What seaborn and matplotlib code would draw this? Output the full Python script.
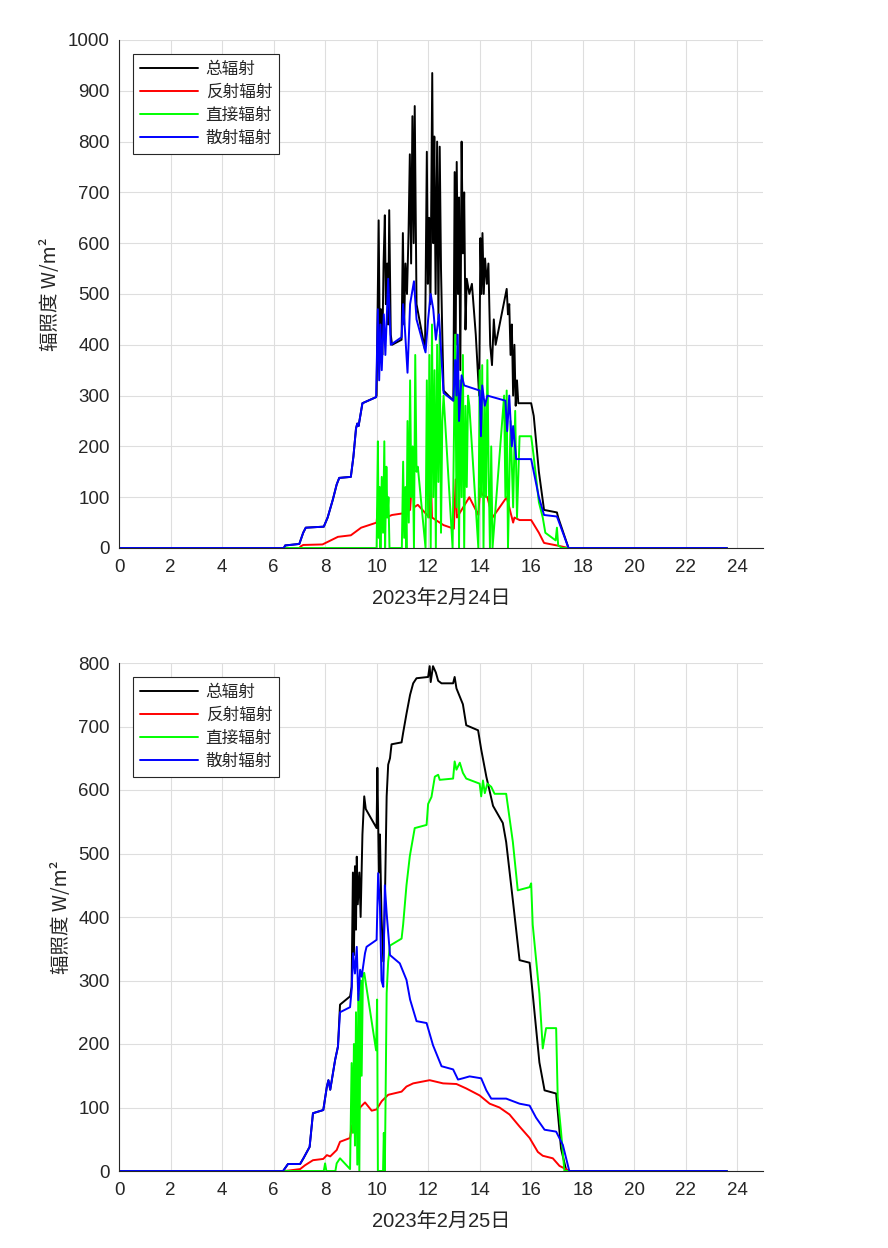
import matplotlib
matplotlib.use("Agg")
import matplotlib.pyplot as plt
import seaborn as sns

# ======================================================
# data: (hour, W/m2) pairs
# ======================================================
labels = ["总辐射", "反射辐射", "直接辐射", "散射辐射"]
colors = ["#000000", "#ff0000", "#00ff00", "#0000ff"]
dates = ["2023年2月24日", "2023年2月25日"]
x_ticks = list(range(0, 25, 2))
y_ticks_24 = list(range(0, 1001, 100))
y_ticks_25 = list(range(0, 801, 100))

# --- 2023-02-24 ---
total_24 = [(0, 0), (6.40, 0), (6.45, 5), (7.00, 8), (7.15, 30), (7.25, 40), (7.95, 42), (8.10, 60),
            (8.30, 95), (8.45, 125), (8.55, 138), (9.00, 140), (9.10, 180), (9.20, 235), (9.25, 245),
            (9.30, 240), (9.45, 285), (9.98, 297), (10.00, 300), (10.08, 645), (10.12, 420), (10.17, 470),
            (10.22, 380), (10.27, 560), (10.32, 655), (10.36, 480), (10.41, 560), (10.45, 440), (10.49, 665),
            (10.55, 420), (10.60, 400), (10.97, 410), (11.02, 620), (11.07, 440), (11.12, 560), (11.18, 500),
            (11.24, 620), (11.29, 775), (11.34, 560), (11.39, 850), (11.44, 600), (11.48, 870), (11.55, 480),
            (11.88, 390), (11.95, 780), (11.99, 520), (12.04, 650), (12.09, 480), (12.16, 935), (12.20, 600),
            (12.24, 810), (12.29, 500), (12.35, 800), (12.40, 450), (12.45, 790), (12.50, 550), (12.55, 420),
            (12.60, 310), (12.98, 290), (13.03, 740), (13.07, 400), (13.11, 760), (13.16, 500), (13.20, 690),
            (13.25, 350), (13.30, 800), (13.35, 580), (13.40, 700), (13.45, 430), (13.50, 530), (13.60, 500),
            (13.70, 520), (13.85, 420), (13.98, 300), (14.03, 610), (14.07, 500), (14.11, 620), (14.16, 500),
            (14.21, 570), (14.28, 520), (14.34, 560), (14.41, 400), (14.48, 360), (14.55, 450), (14.62, 400),
            (15.05, 510), (15.10, 460), (15.15, 480), (15.20, 380), (15.25, 440), (15.30, 300), (15.35, 400),
            (15.40, 280), (15.45, 330), (15.50, 285), (16.00, 285), (16.10, 260), (16.30, 150), (16.50, 75),
            (17.00, 70), (17.05, 60), (17.45, 0), (23.6, 0)]

reflect_24 = [(0, 0), (7.00, 0), (7.05, 3), (7.15, 6), (7.90, 7), (8.10, 12), (8.50, 22), (9.00, 25),
              (9.40, 40), (10.00, 50), (10.05, 80), (10.10, 55), (10.60, 65), (11.00, 68), (11.30, 75),
              (11.40, 150), (11.45, 80), (11.60, 85), (12.05, 60), (12.10, 150), (12.15, 60), (12.60, 45),
              (13.00, 38), (13.07, 135), (13.12, 60), (13.60, 100), (13.95, 65), (14.02, 118), (14.10, 105),
              (14.30, 100), (14.50, 60), (15.05, 100), (15.15, 80), (15.30, 50), (15.35, 60), (15.55, 55),
              (16.00, 55), (16.30, 30), (16.50, 10), (17.00, 5), (17.45, 0), (23.6, 0)]

direct_24 = [(0, 0), (10.00, 0), (10.05, 210), (10.08, 20), (10.12, 120), (10.15, 0), (10.20, 140),
             (10.25, 30), (10.30, 210), (10.33, 0), (10.38, 160), (10.42, 60), (10.46, 100), (10.50, 0),
             (10.98, 0), (11.03, 170), (11.07, 20), (11.12, 120), (11.16, 0), (11.20, 250), (11.25, 50),
             (11.30, 330), (11.35, 100), (11.40, 200), (11.45, 0), (11.50, 380), (11.55, 150), (11.60, 160),
             (11.90, 0), (11.95, 330), (12.00, 60), (12.05, 380), (12.10, 0), (12.15, 440), (12.20, 100),
             (12.25, 350), (12.30, 0), (12.35, 400), (12.40, 130), (12.45, 420), (12.50, 30), (12.55, 250),
             (12.60, 300), (12.95, 0), (13.05, 420), (13.10, 80), (13.15, 400), (13.20, 0), (13.25, 330),
             (13.30, 100), (13.35, 380), (13.40, 0), (13.45, 280), (13.50, 120), (13.55, 300), (13.60, 280),
             (13.95, 0), (14.00, 350), (14.05, 100), (14.10, 360), (14.15, 0), (14.20, 280), (14.25, 100),
             (14.30, 370), (14.35, 150), (14.40, 0), (14.45, 200), (14.50, 0), (14.95, 300), (15.00, 100),
             (15.05, 310), (15.10, 0), (15.20, 250), (15.30, 80), (15.38, 270), (15.45, 60), (15.55, 220),
             (16.00, 220), (16.10, 180), (16.30, 90), (16.45, 60), (16.55, 30), (16.95, 15), (17.00, 40),
             (17.05, 5), (17.20, 0), (23.6, 0)]

diffuse_24 = [(0, 0), (6.40, 0), (6.45, 5), (7.00, 8), (7.15, 30), (7.25, 40), (7.95, 42), (8.10, 60),
              (8.30, 95), (8.45, 125), (8.55, 138), (9.00, 140), (9.10, 180), (9.20, 235), (9.25, 245),
              (9.30, 240), (9.45, 285), (9.98, 297), (10.05, 470), (10.10, 330), (10.15, 440), (10.20, 350),
              (10.28, 460), (10.34, 380), (10.45, 530), (10.55, 400), (10.97, 415), (11.03, 480), (11.10, 430),
              (11.20, 345), (11.30, 480), (11.45, 525), (11.55, 450), (11.90, 385), (12.00, 450), (12.10, 500),
              (12.20, 470), (12.30, 410), (12.42, 460), (12.50, 390), (12.60, 305), (12.98, 290), (13.05, 370),
              (13.10, 300), (13.15, 420), (13.20, 250), (13.30, 340), (13.40, 320), (14.00, 310), (14.05, 220),
              (14.10, 320), (14.20, 280), (14.30, 300), (15.00, 290), (15.07, 230), (15.15, 300), (15.25, 200),
              (15.30, 240), (15.42, 175), (16.00, 175), (16.10, 150), (16.30, 100), (16.50, 65), (17.00, 62),
              (17.45, 0), (23.6, 0)]

# --- 2023-02-25 ---
total_25 = [(0, 0), (6.37, 0), (6.56, 11), (7.03, 11), (7.16, 20), (7.40, 38), (7.53, 91), (7.93, 96),
            (8.07, 133), (8.13, 143), (8.20, 128), (8.39, 175), (8.50, 196), (8.58, 262), (8.97, 275),
            (9.03, 290), (9.08, 470), (9.12, 340), (9.16, 480), (9.20, 380), (9.23, 495), (9.27, 420),
            (9.33, 470), (9.38, 400), (9.45, 530), (9.52, 590), (9.58, 570), (10.00, 540), (10.03, 635),
            (10.09, 470), (10.13, 530), (10.19, 400), (10.26, 330), (10.32, 420), (10.39, 590), (10.45, 640),
            (10.52, 650), (10.58, 672), (10.97, 675), (11.03, 690), (11.16, 720), (11.30, 750), (11.42, 768),
            (11.55, 776), (12.00, 778), (12.06, 795), (12.10, 770), (12.19, 795), (12.30, 785), (12.39, 772),
            (12.52, 768), (12.97, 768), (13.03, 778), (13.10, 760), (13.35, 735), (13.48, 702), (13.94, 694),
            (14.06, 664), (14.26, 621), (14.52, 575), (14.90, 548), (15.03, 518), (15.29, 426), (15.55, 332),
            (15.94, 328), (16.06, 279), (16.32, 171), (16.52, 127), (16.97, 122), (17.16, 35), (17.35, 3),
            (17.45, 0), (23.6, 0)]

reflect_25 = [(0, 0), (6.45, 0), (7.03, 3), (7.22, 9), (7.53, 17), (7.93, 19), (8.07, 25), (8.20, 23),
              (8.45, 33), (8.58, 46), (8.97, 52), (9.03, 70), (9.20, 85), (9.36, 100), (9.55, 108),
              (9.81, 95), (10.00, 97), (10.20, 110), (10.45, 120), (10.97, 125), (11.16, 133), (11.42, 138),
              (12.06, 143), (12.58, 138), (13.10, 137), (13.48, 130), (14.00, 119), (14.39, 106), (14.77, 100),
              (15.16, 89), (15.55, 70), (15.94, 52), (16.26, 30), (16.45, 24), (16.84, 20), (17.10, 8),
              (17.35, 3), (17.48, 0), (23.6, 0)]

direct_25 = [(0, 0), (7.95, 0), (8.00, 12), (8.05, 0), (8.40, 0), (8.45, 12), (8.58, 20), (8.97, 3),
             (9.03, 170), (9.08, 60), (9.12, 200), (9.16, 40), (9.20, 250), (9.25, 10), (9.29, 280),
             (9.33, 0), (9.38, 300), (9.42, 150), (9.47, 310), (9.52, 312), (9.98, 190), (10.02, 270),
             (10.05, 0), (10.25, 0), (10.28, 60), (10.32, 0), (10.39, 280), (10.45, 330), (10.52, 355),
             (10.97, 366), (11.03, 388), (11.16, 450), (11.29, 496), (11.48, 540), (11.94, 545), (12.00, 578),
             (12.13, 589), (12.26, 621), (12.39, 624), (12.45, 616), (12.97, 618), (13.03, 645), (13.10, 632),
             (13.23, 643), (13.35, 627), (13.48, 618), (14.00, 610), (14.06, 590), (14.13, 615), (14.20, 595),
             (14.30, 610), (14.45, 605), (14.58, 594), (15.03, 594), (15.29, 518), (15.48, 442), (15.94, 447),
             (16.00, 453), (16.06, 388), (16.32, 279), (16.45, 193), (16.58, 225), (16.97, 225), (17.03, 117),
             (17.16, 62), (17.29, 0), (23.6, 0)]

diffuse_25 = [(0, 0), (6.37, 0), (6.56, 11), (7.03, 11), (7.16, 20), (7.40, 38), (7.53, 91), (7.93, 96),
              (8.07, 133), (8.13, 143), (8.20, 128), (8.39, 175), (8.50, 196), (8.58, 250), (8.97, 258),
              (9.03, 285), (9.09, 343), (9.16, 311), (9.23, 353), (9.29, 269), (9.36, 317), (9.42, 306),
              (9.55, 343), (9.61, 353), (10.00, 364), (10.06, 469), (10.13, 416), (10.19, 300), (10.26, 290),
              (10.32, 450), (10.39, 406), (10.52, 340), (10.90, 327), (11.16, 301), (11.30, 270), (11.55, 236),
              (11.94, 233), (12.19, 198), (12.52, 165), (12.97, 160), (13.16, 144), (13.35, 146), (13.61, 149),
              (14.06, 146), (14.26, 127), (14.45, 114), (15.03, 114), (15.55, 106), (15.94, 103), (16.19, 84),
              (16.52, 65), (16.97, 62), (17.23, 41), (17.48, 0), (23.6, 0)]

# ======================================================
# style
# ======================================================
sns.set_style("white")
plt.rcParams["font.family"] = ["Liberation Sans", "Noto Sans CJK SC", "DejaVu Sans"]
CJK = ["Noto Sans CJK SC", "DejaVu Sans"]
AXC = "#262626"

fig = plt.figure(figsize=(8.88, 12.48), dpi=100)
ax1 = fig.add_axes([119 / 888, 1 - 548 / 1248, 644 / 888, 508 / 1248])
ax2 = fig.add_axes([119 / 888, 1 - 1171 / 1248, 644 / 888, 508 / 1248])

panels = [
    (ax1, [total_24, reflect_24, direct_24, diffuse_24], dates[0], y_ticks_24),
    (ax2, [total_25, reflect_25, direct_25, diffuse_25], dates[1], y_ticks_25),
]

for ax, series, date, yt in panels:
    for pts, name, c in zip(series, labels, colors):
        t, v = zip(*pts)
        sns.lineplot(x=list(t), y=list(v), ax=ax, color=c, linewidth=1.4,
                     label=name, estimator=None, sort=False)

    ax.set_xlim(0, 25)
    ax.set_ylim(yt[0], yt[-1])
    ax.set_xticks(x_ticks)
    ax.set_yticks(yt)
    ax.grid(True, color="#dedede", linewidth=0.8)
    ax.set_axisbelow(True)
    for side in ["top", "right"]:
        ax.spines[side].set_visible(False)
    for side in ["left", "bottom"]:
        ax.spines[side].set_color(AXC)
        ax.spines[side].set_linewidth(0.8)
    ax.tick_params(direction="in", length=4, width=0.6, color="#888888",
                   labelsize=13.5, labelcolor=AXC)
    ax.tick_params(axis="x", pad=8)
    ax.tick_params(axis="y", pad=6.5)

    ax.set_xlabel(date, fontsize=14.5, color=AXC, labelpad=9)
    ax.set_ylabel("辐照度 W/m²", fontsize=14, color=AXC, labelpad=5, family=CJK)

    leg = ax.legend(loc="upper left", bbox_to_anchor=(0.022, 0.972), borderaxespad=0,
                    prop={"family": CJK, "size": 12}, frameon=True, fancybox=False,
                    handlelength=3.5, handletextpad=0.45, labelspacing=0.36,
                    borderpad=0.4)
    leg.get_frame().set_edgecolor(AXC)
    leg.get_frame().set_linewidth(0.8)
    leg.get_frame().set_alpha(1)

plt.savefig("out.png", dpi=100)
